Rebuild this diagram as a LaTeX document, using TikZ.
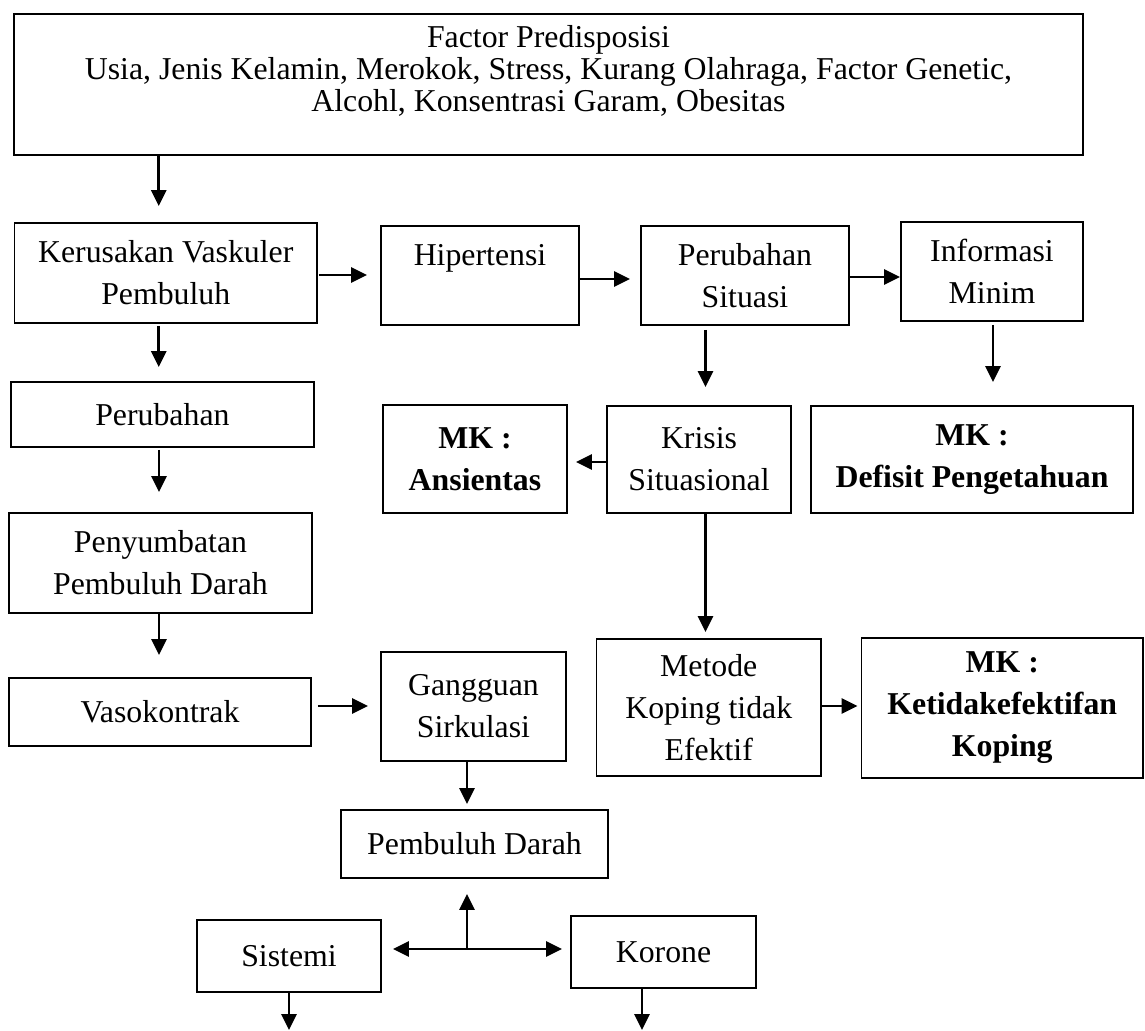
\documentclass[tikz,border=0pt]{standalone}
\usepackage{fontspec}
\setmainfont{Liberation Serif}
\usetikzlibrary{arrows.meta, positioning, calc}

\begin{document}
\begin{tikzpicture}[x=1pt, y=-1pt,
    box/.style={draw, line width=1.8pt, inner sep=0pt, align=center,
                font=\fontsize{31.8}{42}\selectfont},
    mkbox/.style={box, font=\fontsize{31.8}{42}\selectfont\bfseries},
    arr/.style={-{Triangle[length=16pt, width=15pt]}, line width=2.8pt}]
  \useasboundingbox (0,0) rectangle (1145,1030);

  \node[box, minimum width=1069pt, minimum height=141pt,
        font=\fontsize{31.8}{32}\selectfont] (top) at (548.5,84.5)
    {Factor Predisposisi\\
     Usia, Jenis Kelamin, Merokok, Stress, Kurang Olahraga, Factor Genetic,\\
     Alcohl, Konsentrasi Garam, Obesitas\\ \mbox{}};

  \node[box, minimum width=302.5pt, minimum height=100pt] (ker) at (165.75,273)
    {Kerusakan Vaskuler\\ Pembuluh};
  \node[box, minimum width=198pt, minimum height=99pt] (hip) at (480,275.5)
    {Hipertensi\\ \mbox{}};
  \node[box, minimum width=208pt, minimum height=99pt] (ps) at (745,275.5)
    {Perubahan\\ Situasi};
  \node[box, minimum width=182pt, minimum height=99pt] (im) at (992,271.5)
    {Informasi\\ Minim};

  \node[box, minimum width=303pt, minimum height=65pt] (per) at (162.4,414.5)
    {Perubahan};
  \node[mkbox, minimum width=184pt, minimum height=108pt] (ans) at (475,459)
    {MK :\\ Ansientas};
  \node[box, minimum width=184pt, minimum height=107pt] (kri) at (699,459.5)
    {Krisis\\ Situasional};
  \node[mkbox, minimum width=322pt, minimum height=107pt] (def) at (972,459.5)
    {MK :\\ Defisit Pengetahuan};

  \node[box, minimum width=303pt, minimum height=100pt] (pen) at (160.5,563)
    {Penyumbatan\\ Pembuluh Darah};
  \node[box, minimum width=302pt, minimum height=68pt] (vas) at (160,712)
    {Vasokontrak};
  \node[box, minimum width=185pt, minimum height=109pt] (gan) at (473.5,706.5)
    {Gangguan\\ Sirkulasi};
  \node[box, minimum width=224.5pt, minimum height=137pt] (met) at (708.75,707.5)
    {Metode\\ Koping tidak\\ Efektif};
  \node[mkbox, minimum width=281.5pt, minimum height=140pt] (ket) at (1002.25,708)
    {MK :\\ Ketidakefektifan\\ Koping};

  \node[box, minimum width=267pt, minimum height=68pt] (pd) at (474.5,844)
    {Pembuluh Darah};
  \node[box, minimum width=184pt, minimum height=72pt] (sis) at (289,956)
    {Sistemi};
  \node[box, minimum width=185pt, minimum height=72pt] (kor) at (663.5,952)
    {Korone};

  \coordinate (j) at (467,949);
  \coordinate (sisout) at (289,1030);
  \coordinate (korout) at (642,1030);

  % left column
  \draw[arr, shorten >=16pt] ([xshift=-7pt]ker.north |- top.south) -- ([xshift=-7pt]ker.north);
  \draw[arr, shorten <=2pt, shorten >=14pt] ([xshift=-7pt]ker.south) -- ([xshift=-7pt]ker.south |- per.north);
  \draw[arr, shorten <=2pt, shorten >=20pt] ([xshift=-3.4pt]per.south) -- ([xshift=-3.4pt]per.south |- pen.north);
  \draw[arr, shorten >=22pt] ([xshift=-1.5pt]pen.south) -- ([xshift=-1.5pt]pen.south |- vas.north);
  \draw[arr, shorten <=6pt, shorten >=12pt] ([yshift=6pt]vas.east) -- ([yshift=6pt]vas.east -| gan.west);

  % top row
  \draw[arr, shorten <=1pt, shorten >=13pt] ([yshift=-2pt]ker.east) -- ([yshift=-2pt]ker.east -| hip.west);
  \draw[arr, shorten >=10pt] ([yshift=-3.5pt]hip.east) -- ([yshift=-3.5pt]hip.east -| ps.west);
  \draw[arr] ([yshift=-1.5pt]ps.east) -- ([yshift=-1.5pt]ps.east -| im.west);

  % right part
  \draw[arr, shorten <=4pt, shorten >=18pt] ([xshift=-39.5pt]ps.south) -- ([xshift=-39.5pt]ps.south |- kri.north);
  \draw[arr, shorten <=3pt, shorten >=23pt] ([xshift=1pt]im.south) -- ([xshift=1pt]im.south |- def.north);
  \draw[arr, shorten >=8pt] ([yshift=-2.5pt]kri.west) -- ([yshift=-2.5pt]kri.west -| ans.east);
  \draw[arr, shorten >=6pt] ([xshift=6.5pt]kri.south) -- ([xshift=6.5pt]kri.south |- met.north);
  \draw[arr, shorten >=3pt] ([yshift=1.5pt]met.east) -- ([yshift=1.5pt]met.east -| ket.west);

  % circulation
  \draw[arr, shorten >=5pt] ([xshift=-6.5pt]gan.south) -- ([xshift=-6.5pt]gan.south |- pd.north);
  \draw[arr, shorten >=15pt] (j) -- (j |- pd.south);
  \draw[{Triangle[length=16pt, width=15pt]}-{Triangle[length=16pt, width=15pt]}, line width=2.8pt,
        shorten <=11pt, shorten >=8pt] (j -| sis.east) -- (j -| kor.west);
  \draw[arr] (sis.south) -- (sisout);
  \draw[arr] (korout |- kor.south) -- (korout);
\end{tikzpicture}
\end{document}
